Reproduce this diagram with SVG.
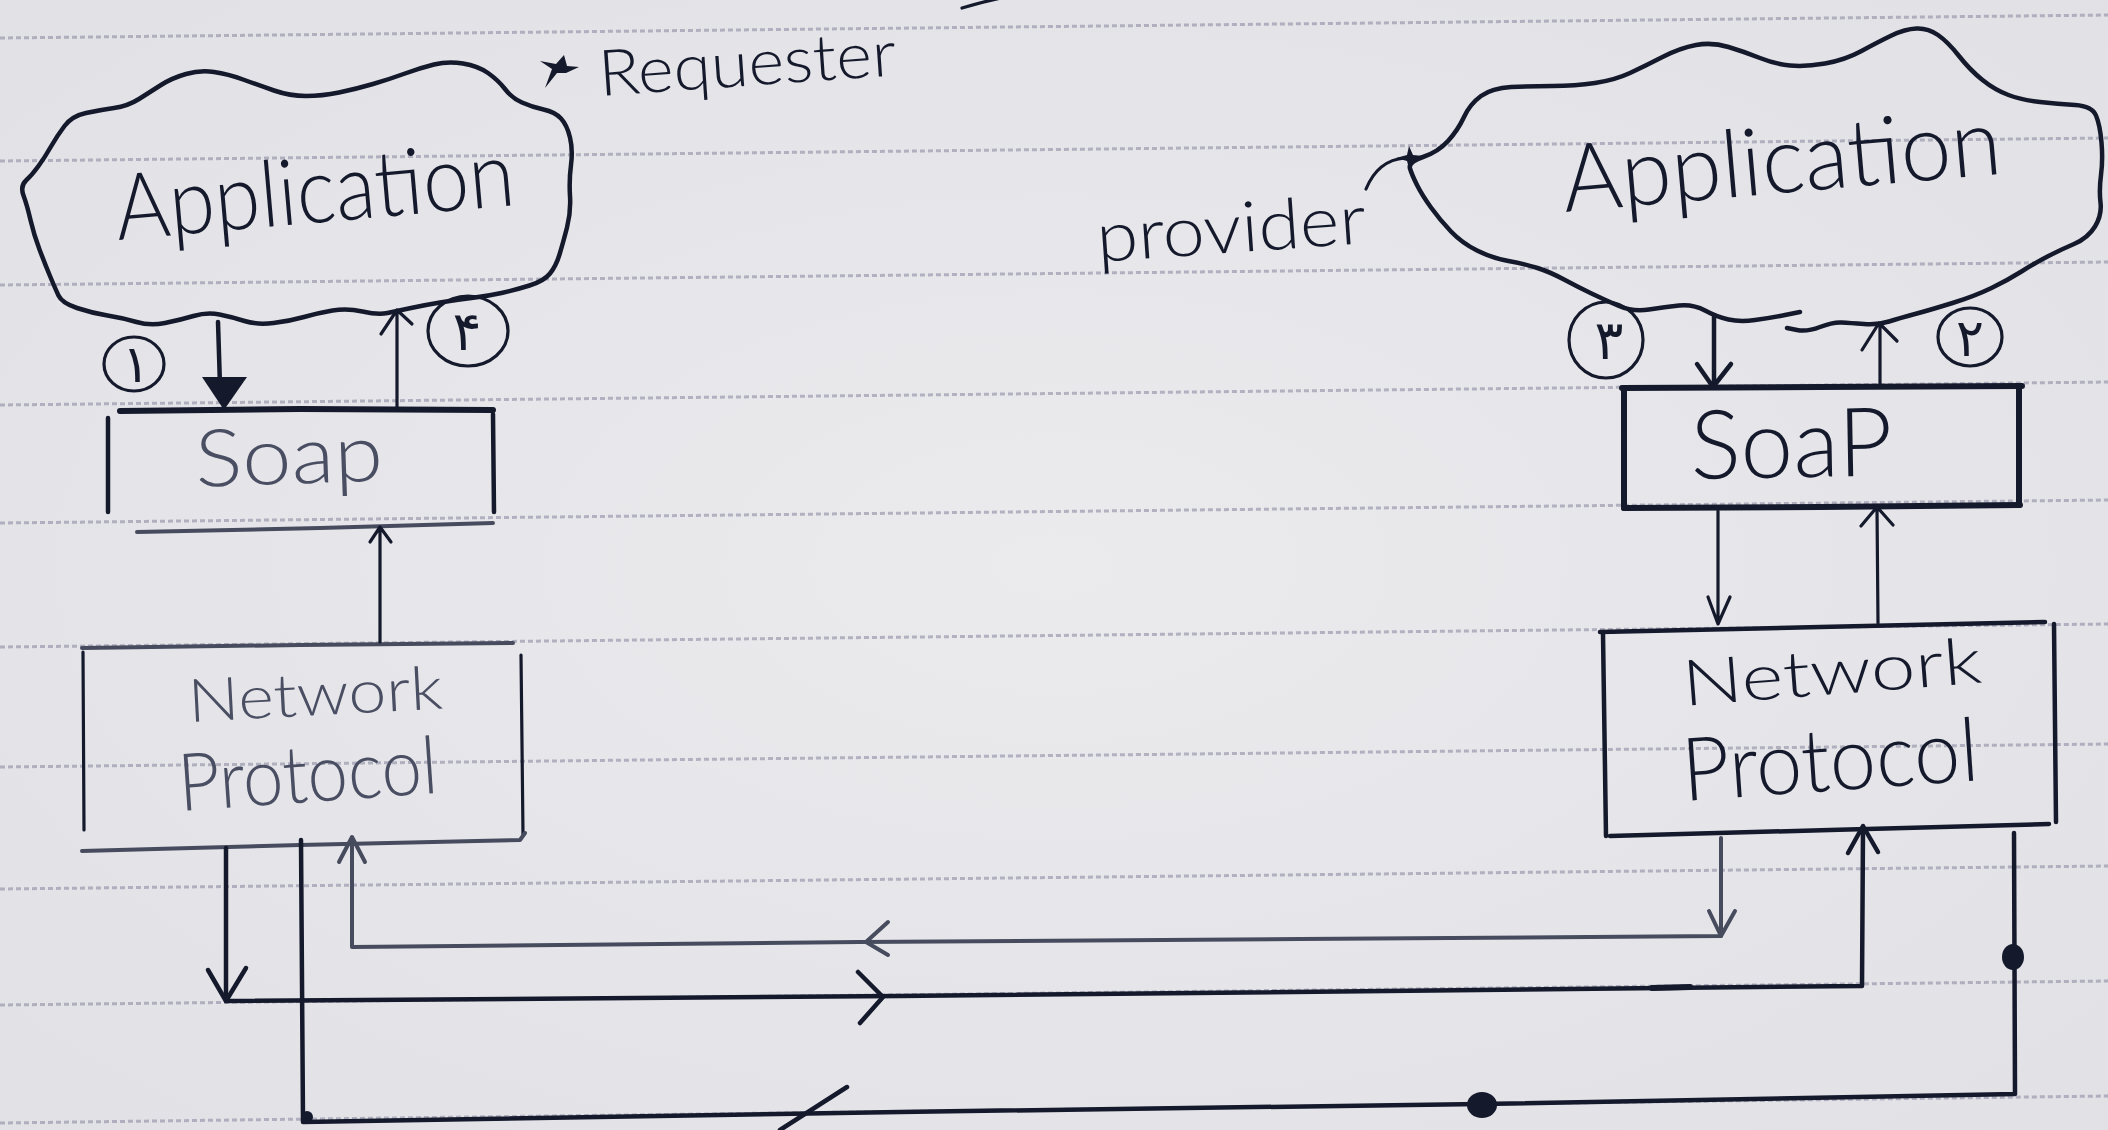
<svg xmlns="http://www.w3.org/2000/svg" width="2108" height="1130" viewBox="0 0 2108 1130">
<defs>
  <radialGradient id="paper" cx="0.5" cy="0.5" r="0.75">
    <stop offset="0" stop-color="#ebebee"/>
    <stop offset="1" stop-color="#e0e0e5"/>
  </radialGradient>
</defs>
<style>
  .rule{stroke:#9a9aae;stroke-width:3;stroke-dasharray:5 3;fill:none;opacity:.7}
  .ink{stroke:#15192c;stroke-width:4.5;fill:none;stroke-linecap:round;stroke-linejoin:round}
  .pencil{stroke:#474b5e;stroke-width:4;fill:none;stroke-linecap:round;stroke-linejoin:round}
  .heavy{stroke-width:6}
  .thin{stroke-width:3.2}
  .hand{font-family:'Lato','Liberation Sans','DejaVu Sans',sans-serif;font-weight:300;fill:#15192c}
  .soft{fill:#4a4e62}
  .digit{font-family:'DejaVu Sans',sans-serif;fill:#15192c;text-anchor:middle}
  .dot{fill:#15192c}
</style>

<!-- notebook page -->
<rect width="2108" height="1130" fill="url(#paper)"/>
<g id="ruling" class="rule">
  <line x1="0" y1="38" x2="2108" y2="15"/>
  <line x1="0" y1="161" x2="2108" y2="138"/>
  <line x1="0" y1="285" x2="2108" y2="262"/>
  <line x1="0" y1="405" x2="2108" y2="382"/>
  <line x1="0" y1="523" x2="2108" y2="500"/>
  <line x1="0" y1="647" x2="2108" y2="624"/>
  <line x1="0" y1="767" x2="2108" y2="744"/>
  <line x1="0" y1="889" x2="2108" y2="866"/>
  <line x1="0" y1="1005" x2="2108" y2="981"/>
  <line x1="0" y1="1123" x2="2108" y2="1096"/>
</g>
<!-- stray pen stroke at the top edge -->
<path class="ink thin" d="M962 8 Q982 2 1001 -2"/>

<!-- requester side -->
<g id="requester-app">
  <path class="ink" d="M64.5 126 Q72 116 86 113 Q100 110 114 108 Q128 106 139 99 Q150 92 161 85 Q172 78 186 74 Q200 70 214 72 Q228 74 243 79.5 Q258 85 274 90.5 Q290 96 306 96 Q322 96 339 92.5 Q356 89 373 84 Q390 79 405 73.5 Q420 68 434 64.5 Q448 61 463 63.5 Q478 66 488 73 Q498 80 505 89 Q512 98 522 102.5 Q532 107 543.5 109.5 Q555 112 561 118.5 Q567 125 570 137.5 Q573 150 571 165 Q569 180 570 196 Q571 212 567 227.5 Q563 243 559.5 254.5 Q556 266 550 273.5 Q544 281 529.5 285.5 Q515 290 501.5 293 Q488 296 471.5 298 Q455 300 440 302.5 Q425 305 411 308 Q397 311 387.5 313 Q378 315 362.5 311.5 Q347 308 332.5 310.5 Q318 313 304 317 Q290 321 273.5 323 Q257 325 244.5 321 Q232 317 219.5 314.5 Q207 312 193.5 316 Q180 320 165 323 Q150 326 136.5 322 Q123 318 107.5 315.5 Q92 313 77 308 Q62 303 58.5 295.5 Q55 288 50 276 Q45 264 39.5 249.5 Q34 235 30.5 220 Q27 205 23.5 195.5 Q20 186 26 180.5 Q32 175 38.5 166 Q45 157 51 146.5 Q57 136 64.5 126 Z"/>
  <text class="hand" x="118" y="240" font-size="92" textLength="400" lengthAdjust="spacingAndGlyphs" transform="rotate(-5 118 240)">Application</text>
  <path class="dot" d="M545 88 L552 69 L540 61 L556 64 L564 55 L567 66 L579 67 L566 73 L557 73 Z"/>
  <text class="hand" x="600" y="96" font-size="64" textLength="298" lengthAdjust="spacingAndGlyphs" transform="rotate(-4 600 96)">Requester</text>
</g>

<g id="requester-soap">
  <path class="ink heavy" d="M120 411 L300 409 L493 410"/>
  <path class="ink" d="M108 418 L108 512 M493 414 L494 512"/>
  <path class="pencil" d="M137 532 L320 528 L493 523"/>
  <text class="hand soft" x="196" y="487" font-size="80" textLength="188" lengthAdjust="spacingAndGlyphs" transform="rotate(-2 196 487)">Soap</text>
</g>

<g id="requester-network">
  <path class="pencil" d="M82 648 L300 645 L513 643"/>
  <path class="ink thin" d="M83 652 L84 830 M521 655 L523 834"/>
  <path class="pencil" d="M82 851 L300 845 L520 840 L525 833"/>
  <text class="hand soft" x="189" y="722" font-size="60" textLength="255" lengthAdjust="spacingAndGlyphs" transform="rotate(-3 189 722)">Network</text>
  <text class="hand soft" x="180" y="811" font-size="80" textLength="260" lengthAdjust="spacingAndGlyphs" transform="rotate(-4 180 811)">Protocol</text>
</g>

<!-- provider side -->
<g id="provider-app">
  <path class="ink" d="M1800 312 L1785 315 Q1770 318 1755 320 Q1740 322 1728.5 319.5 Q1717 317 1705 310.5 Q1693 304 1679 305.5 Q1665 307 1649 309.5 Q1633 312 1619 306 Q1605 300 1591.5 293.5 Q1578 287 1564 279.5 Q1550 272 1537.5 268 Q1525 264 1508.5 261 Q1492 258 1477 250.5 Q1462 243 1451 231.5 Q1440 220 1431 207.5 Q1422 195 1417 185 Q1412 175 1410 168.5 Q1408 162 1423 157 Q1438 152 1448 141 Q1458 130 1464 117 Q1470 104 1481 96 Q1492 88 1511 87 Q1530 86 1552.5 86 Q1575 86 1595 83 Q1615 80 1630 73 Q1645 66 1662.5 57 Q1680 48 1696 45 Q1712 42 1728.5 47 Q1745 52 1760 58 Q1775 64 1790 65.5 Q1805 67 1825 63.5 Q1845 60 1861.5 51 Q1878 42 1891.5 35.5 Q1905 29 1916.5 28.5 Q1928 28 1938 35 Q1948 42 1959 56 Q1970 70 1982.5 80 Q1995 90 2008.5 95 Q2022 100 2040 102 Q2058 104 2075 105 Q2092 106 2096 115.5 Q2100 125 2101.5 142.5 Q2103 160 2101 175 Q2099 190 2100.5 202.5 Q2102 215 2095 226.5 Q2088 238 2074 244 Q2060 250 2047.5 256.5 Q2035 263 2021.5 271.5 Q2008 280 1991.5 288 Q1975 296 1952.5 303 Q1930 310 1915 314 Q1900 318 1889 321.5 Q1878 325 1864 324 Q1850 323 1841.5 322.5 Q1833 322 1820 327 Q1807 332 1797 330 L1787 328"/>
  <text class="hand" x="1565" y="212" font-size="94" textLength="440" lengthAdjust="spacingAndGlyphs" transform="rotate(-5 1565 212)">Application</text>
  <text class="hand" x="1098" y="262" font-size="70" textLength="270" lengthAdjust="spacingAndGlyphs" transform="rotate(-4 1098 262)">provider</text>
  <path class="ink thin" d="M1366 189 Q1378 160 1405 158"/>
  <path class="dot" d="M1410 172 L1407 161 L1396 158 L1407 155 L1409 146 L1413 155 L1423 156 L1413 160 Z"/>
</g>

<g id="provider-soap">
  <path class="ink heavy" d="M1622 388 L1820 387 L2022 386"/>
  <path class="ink heavy" d="M1624 390 L1624 508 M2019 388 L2019 505"/>
  <path class="ink heavy" d="M1624 508 L1820 507 L2020 505"/>
  <text class="hand" x="1691" y="479" font-size="96" textLength="202" lengthAdjust="spacingAndGlyphs" transform="rotate(-1 1691 479)">SoaP</text>
</g>

<g id="provider-network">
  <path class="ink" d="M1600 632 L1820 627 L2045 622"/>
  <path class="ink" d="M1603 634 L1606 836 M2054 624 L2056 822"/>
  <path class="ink" d="M1610 836 L1830 830 L2049 824"/>
  <text class="hand" x="1684" y="706" font-size="64" textLength="300" lengthAdjust="spacingAndGlyphs" transform="rotate(-4.5 1684 706)">Network</text>
  <text class="hand" x="1684" y="801" font-size="88" textLength="297" lengthAdjust="spacingAndGlyphs" transform="rotate(-4 1684 801)">Protocol</text>
</g>

<!-- numbered steps -->
<g id="step-1">
  <ellipse class="ink thin" cx="134" cy="364" rx="30" ry="27"/>
  <text class="digit" x="136" y="382" font-size="52">۱</text>
</g>
<g id="step-2">
  <ellipse class="ink thin" cx="1970" cy="337" rx="32" ry="29"/>
  <text class="digit" x="1970" y="356" font-size="52">۲</text>
</g>
<g id="step-3">
  <ellipse class="ink thin" cx="1606" cy="340" rx="37" ry="38"/>
  <text class="digit" x="1609" y="359" font-size="54">۳</text>
</g>
<g id="step-4">
  <ellipse class="ink thin" cx="468" cy="331" rx="40" ry="35"/>
  <text class="digit" x="467" y="350" font-size="54">۴</text>
</g>

<!-- message flows -->
<g id="connectors">
  <!-- requester app -> requester soap -->
  <path class="ink" d="M218 322 L220 386"/>
  <path class="dot" d="M202 377 L247 377 L224 410 Z"/>
  <!-- requester soap -> requester app -->
  <path class="ink thin" d="M397 408 L397 311 M381 334 L397 310 L412 324"/>
  <!-- requester network -> requester soap -->
  <path class="ink thin" d="M380 642 L380 528 M370 542 L380 527 L391 542"/>
  <!-- provider app -> provider soap -->
  <path class="ink" d="M1714 317 L1714 385 M1697 364 L1713 387 L1731 364"/>
  <!-- provider soap -> provider app -->
  <path class="ink thin" d="M1880 387 L1880 324 M1862 350 L1879 323 L1897 341"/>
  <!-- provider soap -> provider network -->
  <path class="ink thin" d="M1718 511 L1718 624 M1708 597 L1718 624 L1730 597"/>
  <!-- provider network -> provider soap -->
  <path class="ink thin" d="M1878 623 L1877 508 M1861 526 L1877 507 L1893 525"/>

  <!-- response path: provider network -> requester network -->
  <path class="pencil" d="M1721 838 L1721 936 L1300 939 L860 942 L352 947 L352 838"/>
  <path class="pencil" d="M1709 911 L1721 936 L1735 911"/>
  <path class="pencil" d="M888 922 L866 942 L888 955"/>
  <path class="pencil" d="M339 862 L352 837 L365 862"/>

  <!-- request path: requester network -> provider network -->
  <path class="ink" d="M226 848 L226 1001 L900 996 L1862 986 L1863 828"/>
  <path class="ink" d="M208 970 L226 1001 L246 968"/>
  <path class="ink" d="M858 972 L883 997 L860 1023"/>
  <path class="ink" d="M1848 853 L1863 826 L1878 852"/>
  <path class="ink heavy" d="M1652 988 L1690 987"/>

  <!-- shared link along the bottom -->
  <path class="ink" d="M301 840 L303 1122 L900 1112 L1480 1104 L2015 1094 L2014 833"/>
  <path class="ink" d="M780 1130 L847 1087"/>
  <circle class="dot" cx="307" cy="1117" r="6"/>
  <ellipse class="dot" cx="1482" cy="1105" rx="15" ry="13"/>
  <ellipse class="dot" cx="2013" cy="957" rx="11" ry="13"/>
</g>
</svg>
